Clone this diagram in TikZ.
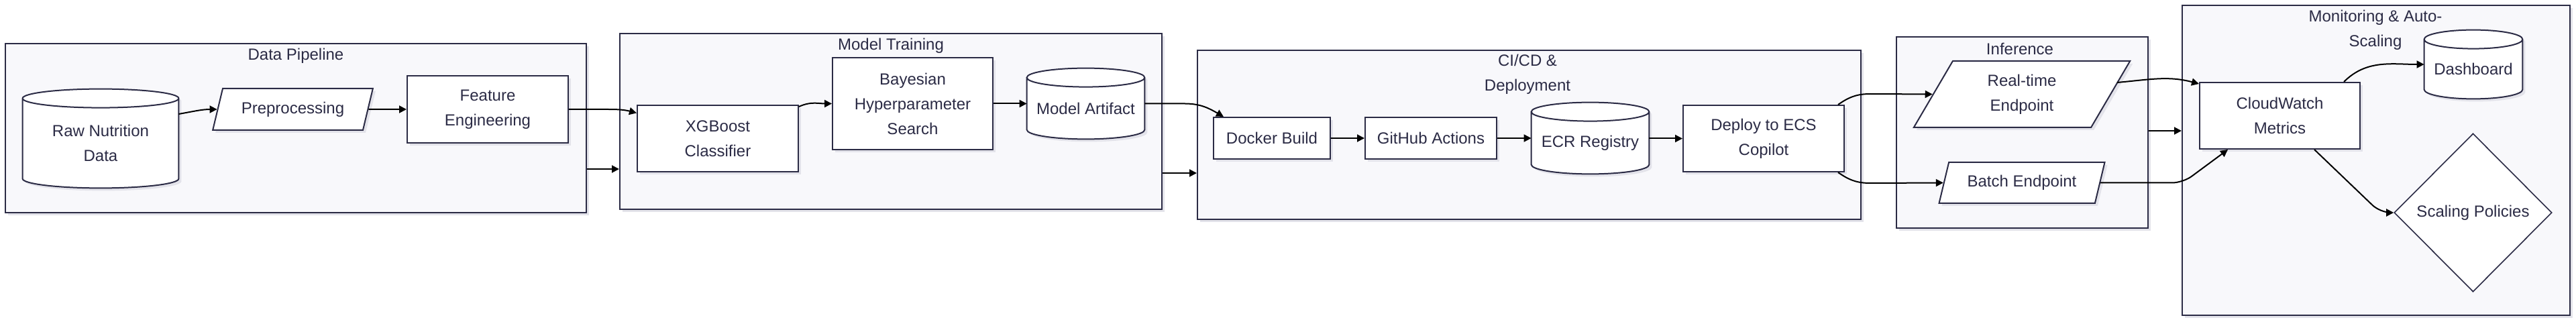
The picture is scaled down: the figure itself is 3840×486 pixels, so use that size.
\documentclass[tikz,border=0pt]{standalone}
\usepackage{fontspec}
\setmainfont{Liberation Sans}
\usetikzlibrary{shapes.geometric,arrows.meta,shadows,calc}
\definecolor{ink}{HTML}{2B2B45}
\definecolor{lanefill}{HTML}{F8F8FB}
\definecolor{shadowgrey}{HTML}{E3E3EA}
\pgfdeclarelayer{lanes}
\pgfdeclarelayer{drums}
\pgfsetlayers{lanes,drums,main}

\tikzset{
  lbl/.style={font=\fontsize{12}{18.5}\selectfont, text=ink, align=center},
  lift/.style={drop shadow={shadow xshift=2pt, shadow yshift=-2pt, fill=shadowgrey, opacity=1}},
  lane/.style={draw=ink, line width=1pt, fill=lanefill, inner sep=0pt, lift},
  box/.style={lbl, rectangle, draw=ink, line width=1pt, fill=white, inner sep=0pt, lift},
  slant/.style={box, trapezium, trapezium left angle=64, trapezium right angle=116, trapezium stretches=true},
  drumnode/.style={lbl, inner sep=0pt},
  gate/.style={lbl, diamond, draw=ink, line width=0.8pt, fill=white, inner sep=0pt},
  flow/.style={-{Triangle[length=5.5pt,width=5.5pt]}, line width=1pt, black}
}

\newcommand\drum[1]{%
\begin{pgfonlayer}{drums}
\filldraw[draw=ink, line width=1pt, fill=white, lift] let \p1=([yshift=3.5pt]#1.north west), \p2=([yshift=3.5pt]#1.south east), \n1={(\x2-\x1)/2} in
  (\x1,\y1-7pt) -- (\x1,\y2+7pt) arc[start angle=180, end angle=360, x radius=\n1, y radius=7pt]
  -- (\x2,\y1-7pt) arc[start angle=0, end angle=180, x radius=\n1, y radius=7pt]
  arc[start angle=180, end angle=360, x radius=\n1, y radius=7pt];
\end{pgfonlayer}}

\begin{document}
\begin{tikzpicture}[x=0.5pt, y=-0.5pt]
\useasboundingbox (0,0) rectangle (3840,486);

\begin{pgfonlayer}{lanes}
\node[lane, minimum width=433pt, minimum height=126pt] (pipe) at (441,191) {};
\node[lane, minimum width=404pt, minimum height=131pt] (train) at (1328,181) {};
\node[lane, minimum width=494.5pt, minimum height=126pt] (cicd) at (2279.5,201) {};
\node[lane, minimum width=187.5pt, minimum height=142.5pt] (infer) at (3014.5,197.5) {};
\node[lane, minimum width=289pt, minimum height=231pt] (monit) at (3542,239) {};
\end{pgfonlayer}

\node[lbl] (pipetitle) at (441,83) {Data Pipeline};
\node[lbl] (traintitle) at (1328,68) {Model Training};
\node[lbl] (cicdtitle) at (2277,111) {CI/CD \&\\Deployment};
\node[lbl] (infertitle) at (3011,73) {Inference};
\node[lbl] (monittitle) at (3541,45) {Monitoring \& Auto-\\Scaling};

\node[drumnode, minimum width=116pt, minimum height=73.5pt] (raw) at (150,213.5) {Raw Nutrition\\Data};
\node[slant, minimum width=119.5pt, minimum height=31pt] (pre) at (436.5,163) {Preprocessing};
\node[box, minimum width=120pt, minimum height=50pt] (feat) at (727,163) {Feature\\Engineering};

\node[box, minimum width=120pt, minimum height=49.5pt] (xgb) at (1070,206.5) {XGBoost\\Classifier};
\node[box, minimum width=119.5pt, minimum height=68.5pt] (bayes) at (1360.5,154.5) {Bayesian\\Hyperparameter\\Search};
\node[drumnode, minimum width=87.5pt, minimum height=52.5pt] (art) at (1618.5,161.5) {Model Artifact};

\node[box, minimum width=87pt, minimum height=31pt] (docker) at (1896,206) {Docker Build};
\node[box, minimum width=98pt, minimum height=31pt] (gha) at (2133,206) {GitHub Actions};
\node[drumnode, minimum width=87.5pt, minimum height=53pt] (ecr) at (2370.5,213) {ECR Registry};
\node[box, minimum width=120pt, minimum height=49.5pt] (ecs) at (2629,206.5) {Deploy to ECS\\Copilot};

\node[slant, minimum width=162pt, minimum height=49.5pt] (rt) at (3014,140.5) {Real-time\\Endpoint};
\node[slant, minimum width=124pt, minimum height=30.5pt] (batch) at (3014,272.5) {Batch Endpoint};

\node[box, minimum width=119.5pt, minimum height=49.5pt] (cw) at (3398.5,172.5) {CloudWatch\\Metrics};
\node[drumnode, minimum width=73pt, minimum height=51pt] (dash) at (3687,103) {Dashboard};
\node[gate, minimum width=117.5pt, minimum height=118pt] (scale) at (3686.5,317) {Scaling Policies};

\drum{raw}
\drum{art}
\drum{ecr}
\drum{dash}

\draw[flow] ([yshift=21.75pt]raw.east) to[out=10,in=180] (pre.west);
\draw[flow] (pre.east) -- (feat.west);
\draw[flow] (feat.east) -- ++(22pt,0) to[out=0,in=165] ([yshift=19pt]xgb.west);
\draw[flow] ([yshift=-30.5pt]pipe.east) -- ([yshift=-30.5pt]pipe.east -| train.west);

\draw[flow] ([yshift=-1.5pt]xgb.north east) to[out=25,in=180] (bayes.west);
\draw[flow] (bayes.east) -- (bayes.east -| art.west);
\draw[flow] ([yshift=3.5pt]art.east) -- ++(30pt,0) to[out=0,in=150] ([xshift=8pt]docker.north west);
\draw[flow] ([yshift=-38.5pt]train.east) -- ([yshift=-38.5pt]train.east -| cicd.west);

\draw[flow] (docker.east) -- (gha.west);
\draw[flow] (gha.east) -- (gha.east -| ecr.west);
\draw[flow] (ecr.east |- ecs.west) -- (ecs.west);
\draw[flow] ([xshift=-5pt]ecs.north east) to[out=35,in=180] ++(24pt,8pt) -- (rt.west);
\draw[flow] ([xshift=-5pt]ecs.south east) to[out=-35,in=180] ++(24pt,-8pt) -- (batch.west);

\draw[flow] ([xshift=4.25pt,yshift=8.75pt]rt.east) to[out=5,in=165] ([yshift=-1.5pt]cw.north west);
\draw[flow] ([yshift=1.25pt]infer.east) -- ([yshift=1.25pt]infer.east -| monit.west);
\draw[flow, rounded corners=8pt] (batch.east) -- ([xshift=-12pt]batch.east -| cw.west) -- ([xshift=21.5pt]cw.south west);
\draw[flow] ([xshift=-12.5pt]cw.north east) to[out=45,in=180] ([yshift=3.5pt]dash.west);
\draw[flow, rounded corners=8pt] ([xshift=-34.5pt]cw.south east) -- ([xshift=-10pt]scale.west) -- (scale.west);
\end{tikzpicture}
\end{document}
